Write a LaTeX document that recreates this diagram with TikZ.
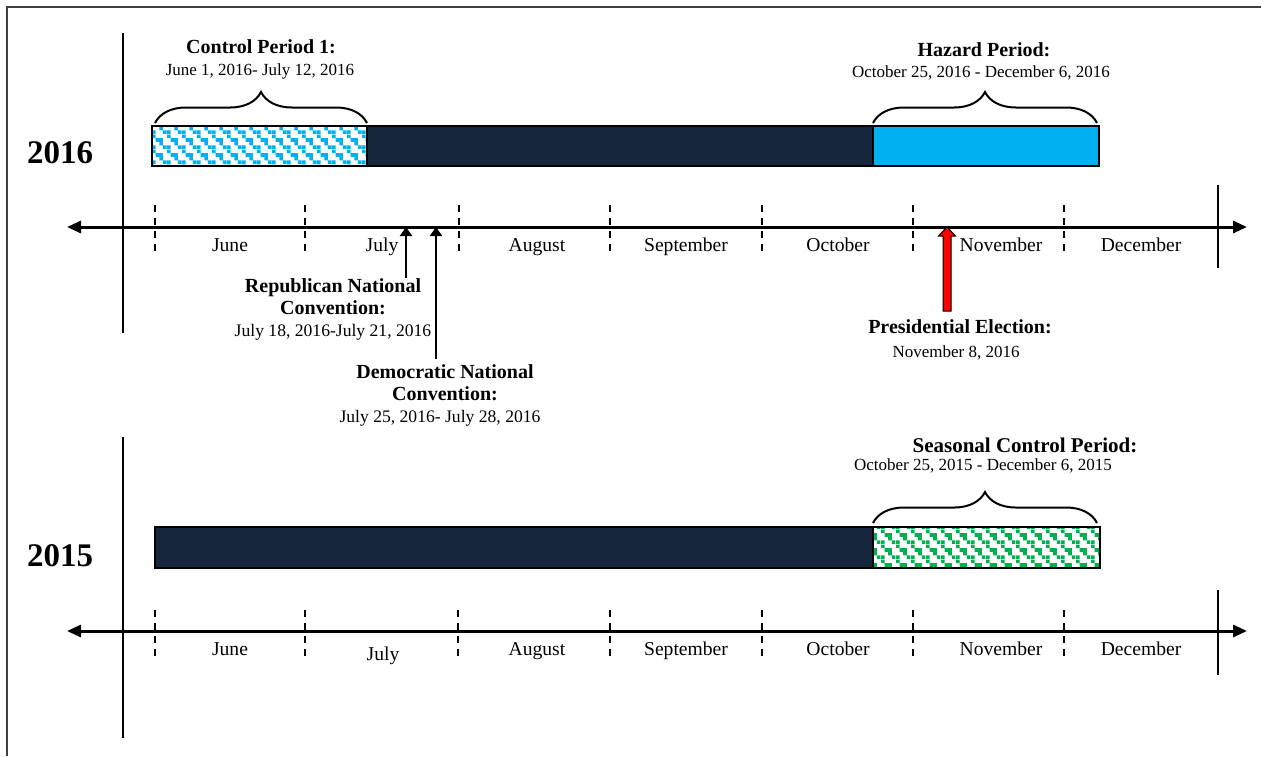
\documentclass[tikz,border=0pt]{standalone}
\usepackage{fontspec}
\setmainfont{Liberation Serif}
\usetikzlibrary{arrows.meta,decorations.pathreplacing,patterns}
\definecolor{navy}{HTML}{17263C}
\definecolor{hazblue}{HTML}{00B0F0}
\definecolor{grn}{HTML}{00B050}
\definecolor{elecred}{HTML}{FF0000}
\pgfdeclarepatternformonly{diagsq}{\pgfpointorigin}{\pgfpoint{7.6pt}{7.6pt}}{\pgfpoint{7.6pt}{7.6pt}}{
  \pgfpathrectangle{\pgfpoint{0pt}{5.7pt}}{\pgfpoint{1.9pt}{1.9pt}}
  \pgfpathrectangle{\pgfpoint{1.9pt}{3.8pt}}{\pgfpoint{1.9pt}{1.9pt}}
  \pgfpathrectangle{\pgfpoint{3.8pt}{1.9pt}}{\pgfpoint{1.9pt}{1.9pt}}
  \pgfpathrectangle{\pgfpoint{5.7pt}{0pt}}{\pgfpoint{1.9pt}{1.9pt}}
  \pgfpathrectangle{\pgfpoint{3.8pt}{3.8pt}}{\pgfpoint{1.9pt}{1.9pt}}
  \pgfpathrectangle{\pgfpoint{0pt}{0pt}}{\pgfpoint{1.9pt}{1.9pt}}
  \pgfusepath{fill}
}
\tikzset{
  ttl/.style={font=\fontsize{10}{12}\selectfont\bfseries, anchor=base, inner sep=0pt},
  dte/.style={font=\fontsize{8.5}{10}\selectfont, anchor=base, inner sep=0pt},
  mon/.style={font=\fontsize{9.8}{12}\selectfont, anchor=base, inner sep=0pt},
  yr/.style={font=\fontsize{16.5}{19}\selectfont\bfseries, anchor=base, inner sep=0pt},
  axisline/.style={line width=1.5pt, {Triangle[length=7pt,width=6pt]}-{Triangle[length=7pt,width=6pt]}},
  monthtick/.style={line width=1pt, dash pattern=on 3.5pt off 3pt},
  vline/.style={line width=1pt},
  brc/.style={decorate, decoration={brace, amplitude=15.5pt}, line width=1pt},
  barbox/.style={line width=0.8pt, draw=black},
  conv/.style={line width=1pt, -{Triangle[length=4.5pt,width=6pt]}},
  redarr/.style={draw=black, line width=0.5pt, fill=elecred},
}
\begin{document}
\begin{tikzpicture}[x=0.5pt,y=-0.5pt]
\useasboundingbox (0,0) rectangle (1261,756);
% frame
\draw[line width=1.2pt, black!75] (7,756) -- (7,7) -- (1261,7);

% ===== 2016 panel =====
\node[yr] (y2016) at (60,163) {2016};
\draw[vline] (123,33) -- (123,333);
\draw[vline] (1218,185) -- (1218,268);

% bars
\draw[barbox, preaction={fill=white}, pattern=diagsq, pattern color=hazblue] (152,126) rectangle (367,166);
\draw[barbox, fill=navy] (367,126) rectangle (873,166);
\draw[barbox, fill=hazblue] (873,126) rectangle (1099,166);

% braces and titles
\coordinate (b1l) at (155,123); \coordinate (b1r) at (367,123);
\draw[brc] (b1l) -- (b1r);
\node[ttl] (cp1t) at (261,53) {Control Period 1:};
\node[dte] (cp1d) at (260,75) {June 1, 2016- July 12, 2016};

\coordinate (b2l) at (873,123); \coordinate (b2r) at (1097,123);
\draw[brc] (b2l) -- (b2r);
\node[ttl] (hzt) at (984,56) {Hazard Period:};
\node[dte] (hzd) at (981,77) {October 25, 2016 - December 6, 2016};

% axis
\coordinate (a16l) at (67,227); \coordinate (a16r) at (1247,227);
\draw[axisline] (a16l) -- (a16r);
\foreach \x in {155,305,459,610,762,913,1064}
  \draw[monthtick] (\x,205) -- (\x,251);
\foreach \x/\m/\n in {230/June/t1,382/July/t2,537/August/t3,686/September/t4,838/October/t5,1001/November/t6,1141/December/t7}
  \node[mon] (m16\n) at (\x,251) {\m};

% Republican convention
\coordinate (repA) at (406,227); \coordinate (repB) at (406,278);
\draw[conv] (repB) -- (repA);
\node[ttl] (rep1) at (333,292) {Republican National};
\node[ttl] (rep2) at (333,314) {Convention:};
\node[dte, font=\fontsize{8.8}{10}\selectfont] (rep3) at (333,336) {July 18, 2016-July 21, 2016};

% Democratic convention
\coordinate (demA) at (436,227); \coordinate (demB) at (436,359);
\draw[conv] (demB) -- (demA);
\node[ttl] (dem1) at (445,378) {Democratic National};
\node[ttl] (dem2) at (445,400) {Convention:};
\node[dte, font=\fontsize{8.8}{10}\selectfont] (dem3) at (440,422) {July 25, 2016- July 28, 2016};

% Presidential election
\coordinate (elec) at (947,227);
\draw[redarr] (elec) -- ++(8.5,9) -- ++(-4.5,0) -- ++(0,75) -- ++(-8,0) -- ++(0,-75) -- ++(-4.5,0) -- cycle;
\node[ttl] (pe1) at (960,333) {Presidential Election:};
\node[dte] (pe2) at (956,357) {November 8, 2016};

% ===== 2015 panel =====
\node[yr] (y2015) at (60,566) {2015};
\draw[vline] (123,437) -- (123,738);
\draw[vline] (1218,590) -- (1218,675);

\draw[barbox, fill=navy] (155,527) rectangle (873,568);
\draw[barbox, preaction={fill=white}, pattern=diagsq, pattern color=grn] (873,527) rectangle (1100,568);

\coordinate (b3l) at (873,523); \coordinate (b3r) at (1097,523);
\draw[brc] (b3l) -- (b3r);
\node[ttl, font=\fontsize{10.5}{12}\selectfont\bfseries] (sct) at (1025,452) {Seasonal Control Period:};
\node[dte] (scd) at (983,470) {October 25, 2015 - December 6, 2015};

\coordinate (a15l) at (67,631); \coordinate (a15r) at (1247,631);
\draw[axisline] (a15l) -- (a15r);
\foreach \x in {155,305,458,610,762,913,1064}
  \draw[monthtick] (\x,610) -- (\x,656);
\foreach \x/\m/\n/\y in {230/June/t1/655,383/July/t2/660,537/August/t3/655,686/September/t4/655,838/October/t5/655,1001/November/t6/655,1141/December/t7/655}
  \node[mon] (m15\n) at (\x,\y) {\m};
\end{tikzpicture}
\end{document}
